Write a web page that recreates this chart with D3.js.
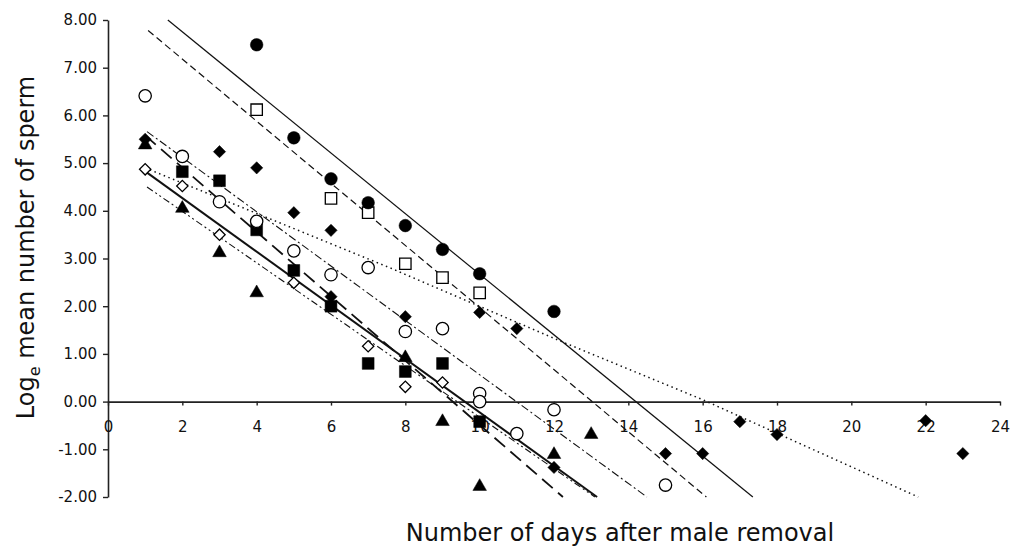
<!DOCTYPE html>
<html>
<head>
<meta charset="utf-8">
<script src="https://cdn.jsdelivr.net/npm/d3@7"></script>
<style>
  html, body { margin: 0; padding: 0; background: #fff; }
  svg { display: block; }
</style>
</head>
<body>
<svg id="chart" width="1012" height="548"></svg>
<script>
// ---- Data ----
const xTicks = [0, 2, 4, 6, 8, 10, 12, 14, 16, 18, 20, 22, 24];
const yTicks = [-2, -1, 0, 1, 2, 3, 4, 5, 6, 7, 8];

const filledCircleDays = [4, 5, 6, 7, 8, 9, 10, 12];
const filledCircleVals = [7.48, 5.53, 4.67, 4.17, 3.69, 3.19, 2.68, 1.89];

const openSquareDays = [4, 6, 7, 8, 9, 10];
const openSquareVals = [6.12, 4.26, 3.96, 2.89, 2.60, 2.28];

const filledDiamondDays = [1, 3, 4, 5, 6, 6, 8, 10, 11, 12, 15, 16, 17, 18, 22, 23];
const filledDiamondVals = [5.50, 5.24, 4.90, 3.96, 3.59, 2.20, 1.78, 1.87, 1.53, -1.38, -1.09, -1.09, -0.42, -0.69, -0.40, -1.09];

const openCircleDays = [1, 2, 3, 4, 5, 6, 7, 8, 9, 10, 10, 11, 12, 15];
const openCircleVals = [6.41, 5.14, 4.19, 3.78, 3.16, 2.66, 2.81, 1.47, 1.53, 0.17, 0.00, -0.67, -0.17, -1.75];

const filledSquareDays = [2, 3, 4, 5, 6, 7, 8, 9, 10];
const filledSquareVals = [4.82, 4.63, 3.60, 2.75, 2.00, 0.80, 0.63, 0.80, -0.42];

const filledTriangleDays = [1, 2, 3, 4, 8, 9, 10, 12, 13];
const filledTriangleVals = [5.38, 4.05, 3.12, 2.28, 0.92, -0.42, -1.78, -1.11, -0.69];

const openDiamondDays = [1, 2, 3, 5, 7, 8, 9];
const openDiamondVals = [4.87, 4.52, 3.50, 2.49, 1.16, 0.31, 0.40];

// fitted trend lines: [day, value] pairs
const trendFilledCircle = [[1.61, 8.0], [17.35, -2.0]];
const trendOpenSquare = [[1.08, 7.78], [16.1, -2.0]];
const trendFilledDiamond = [[1.0, 4.9], [7.6, 2.8], [12.2, 1.26], [16.0, 0.04], [21.8, -2.0]];
const trendOpenCircle = [[1.05, 5.66], [14.5, -2.0]];
const trendFilledSquare = [[1.0, 5.58], [12.24, -2.0]];
const trendOpenDiamond = [[1.05, 4.8], [13.16, -2.0]];
const trendFilledTriangle = [[1.05, 4.5], [13.1, -2.0]];

// ---- Chart ----
const svg = d3.select("#chart");
svg.append("rect").attr("width", 1012).attr("height", 548).attr("fill", "#fff");

const x = d3.scaleLinear().domain([0, 24]).range([108, 1000]);
const y = d3.scaleLinear().domain([-2, 8]).range([497, 20]);

const FONT = "'DejaVu Sans', Verdana, sans-serif";

// y axis
const yAxis = svg.append("g")
  .attr("transform", `translate(${x(0)},0)`)
  .call(d3.axisLeft(y).tickValues(yTicks).tickFormat(d => d.toFixed(2)).tickSize(5).tickSizeOuter(0).tickPadding(6));
yAxis.select(".domain").attr("stroke", "#222").attr("stroke-width", 1.6);
yAxis.selectAll(".tick line").attr("stroke", "#222").attr("stroke-width", 1.4);
yAxis.selectAll(".tick text").attr("font-family", FONT).attr("font-size", 15).attr("fill", "#111");

// x axis at y = 0
const xAxis = svg.append("g")
  .attr("transform", `translate(0,${y(0)})`)
  .call(d3.axisBottom(x).tickValues(xTicks).tickFormat(d => String(d)).tickSize(4).tickSizeOuter(0).tickPadding(16));
xAxis.select(".domain").attr("stroke", "#222").attr("stroke-width", 1.6);
xAxis.selectAll(".tick line").attr("stroke", "#222").attr("stroke-width", 1.4);
xAxis.selectAll(".tick text").attr("font-family", FONT).attr("font-size", 15).attr("fill", "#111");

// trend lines
const line = d3.line().x(d => x(d[0])).y(d => y(d[1]));
const trends = [
  { data: trendFilledCircle, w: 1.2, dash: null },
  { data: trendOpenSquare, w: 1.2, dash: "7,4" },
  { data: trendFilledDiamond, w: 1.5, dash: "1.5,3.5" },
  { data: trendOpenCircle, w: 1.1, dash: "8,3,2,3" },
  { data: trendFilledSquare, w: 1.8, dash: "14,7" },
  { data: trendOpenDiamond, w: 2.0, dash: null },
  { data: trendFilledTriangle, w: 1.1, dash: "7,3,2,3,2,3" }
];
svg.append("g").selectAll("path").data(trends).join("path")
  .attr("d", t => line(t.data))
  .attr("fill", "none")
  .attr("stroke", "#111")
  .attr("stroke-width", t => t.w)
  .attr("stroke-dasharray", t => t.dash);

// markers
const series = [
  { xs: openDiamondDays, ys: openDiamondVals, type: d3.symbolSquare, size: 64, rot: 45, filled: false },
  { xs: filledTriangleDays, ys: filledTriangleVals, type: d3.symbolTriangle, size: 80, rot: 0, filled: true },
  { xs: filledSquareDays, ys: filledSquareVals, type: d3.symbolSquare, size: 140, rot: 0, filled: true },
  { xs: openCircleDays, ys: openCircleVals, type: d3.symbolCircle, size: 120, rot: 0, filled: false },
  { xs: filledDiamondDays, ys: filledDiamondVals, type: d3.symbolSquare, size: 75, rot: 45, filled: true },
  { xs: openSquareDays, ys: openSquareVals, type: d3.symbolSquare, size: 130, rot: 0, filled: false },
  { xs: filledCircleDays, ys: filledCircleVals, type: d3.symbolCircle, size: 125, rot: 0, filled: true }
];
series.forEach(s => {
  const pts = s.xs.map((d, i) => [d, s.ys[i]]);
  svg.append("g").selectAll("path").data(pts).join("path")
    .attr("d", d3.symbol().type(s.type).size(s.size))
    .attr("transform", d => `translate(${x(d[0])},${y(d[1])}) rotate(${s.rot})`)
    .attr("fill", s.filled ? "#000" : "#fff")
    .attr("stroke", "#000")
    .attr("stroke-width", s.filled ? 0.5 : 1.3);
});

// axis titles
const yt = svg.append("text")
  .attr("transform", `translate(34,${(70 + 425) / 2}) rotate(-90)`)
  .attr("text-anchor", "middle")
  .attr("font-family", FONT)
  .attr("font-size", 24)
  .attr("fill", "#111");
yt.append("tspan").text("Log");
yt.append("tspan").attr("font-size", 16).attr("dy", 6).text("e");
yt.append("tspan").attr("dy", -6).text(" mean number of sperm");

svg.append("text")
  .attr("x", 620)
  .attr("y", 541)
  .attr("text-anchor", "middle")
  .attr("font-family", FONT)
  .attr("font-size", 24)
  .attr("fill", "#111")
  .text("Number of days after male removal");
</script>
</body>
</html>
